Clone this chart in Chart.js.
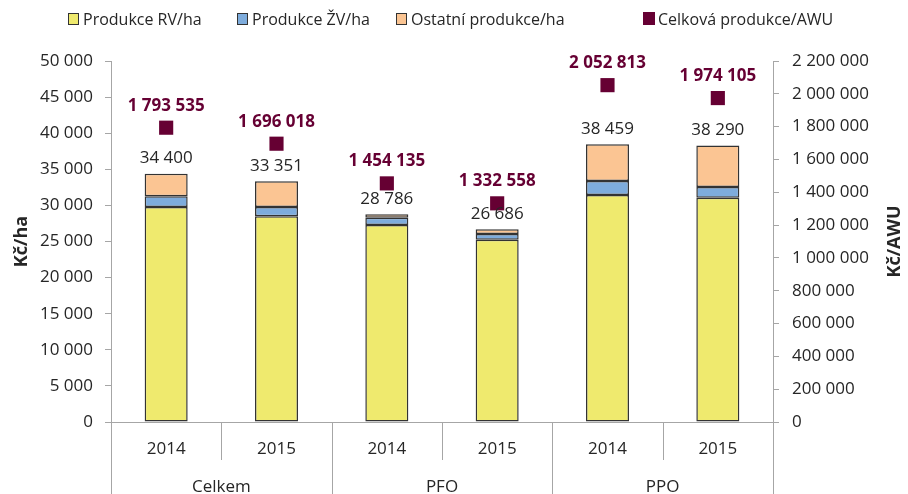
<!DOCTYPE html>
<html>
<head>
<meta charset="utf-8">
<script src="https://cdn.jsdelivr.net/npm/chart.js@4/dist/chart.umd.min.js"></script>
<style>
html,body{margin:0;padding:0;background:#fff;}
#wrap{width:908px;height:494px;position:relative;}
</style>
</head>
<body>
<div id="wrap"><canvas id="c" width="908" height="494"></canvas></div>
<script>
const categories = ['2014', '2015', '2014', '2015', '2014', '2015'];
const groups = ['Celkem', 'PFO', 'PPO'];
const rvValues = [29780, 28490, 27290, 25250, 31440, 31070];
const zvValues = [1480, 1290, 1010, 790, 1940, 1480];
const ostatniValues = [3140, 3571, 486, 646, 5079, 5740];
const totalValues = [34400, 33351, 28786, 26686, 38459, 38290];
const awuValues = [1793535, 1696018, 1454135, 1332558, 2052813, 1974105];
const leftTicks = [0, 5000, 10000, 15000, 20000, 25000, 30000, 35000, 40000, 45000, 50000];
const rightTicks = [0, 200000, 400000, 600000, 800000, 1000000, 1200000, 1400000, 1600000, 1800000, 2000000, 2200000];

const FONT = '"Open Sans", "DejaVu Sans", sans-serif';
const TXT = '#262626';
const AXIS = '#a6a6a6';
const MAROON = '#660033';
const BORDER = '#333333';
const fmt = v => String(Math.round(v)).replace(/\B(?=(\d{3})+(?!\d))/g, ' ');

const overlay = {
  id: 'overlay',
  afterDraw(chart) {
    const ctx = chart.ctx;
    const ca = chart.chartArea;
    const xs = chart.scales.x;
    ctx.save();
    // bottom multi-level axis
    const n = categories.length;
    const step = (ca.right - ca.left) / n;
    ctx.strokeStyle = AXIS;
    ctx.lineWidth = 1;
    for (let i = 0; i <= n; i++) {
      const x = Math.round(ca.left + i * step) + 0.5;
      const long = (i % 2 === 0);
      ctx.beginPath();
      ctx.moveTo(x, ca.bottom);
      ctx.lineTo(x, long ? chart.height : ca.bottom + 38);
      ctx.stroke();
    }
    ctx.fillStyle = TXT;
    ctx.font = '17px ' + FONT;
    ctx.textAlign = 'center';
    ctx.textBaseline = 'middle';
    categories.forEach((c, i) => {
      ctx.fillText(c, xs.getPixelForValue(i), ca.bottom + 27);
    });
    groups.forEach((g, i) => {
      ctx.fillText(g, ca.left + (2 * i + 1) * step, ca.bottom + 65);
    });
    // totals above bars
    const topMeta = chart.getDatasetMeta(2);
    topMeta.data.forEach((el, i) => {
      ctx.fillStyle = TXT;
      ctx.font = '17px ' + FONT;
      ctx.fillText(fmt(totalValues[i]), el.x, el.y - 15);
    });
    // AWU labels
    const pMeta = chart.getDatasetMeta(3);
    pMeta.data.forEach((el, i) => {
      ctx.fillStyle = MAROON;
      ctx.font = 'bold 17px ' + FONT;
      ctx.fillText(fmt(awuValues[i]), el.x, el.y - 22);
    });
    // right axis title (reads bottom to top)
    ctx.save();
    ctx.translate(895, (ca.top + ca.bottom) / 2);
    ctx.rotate(-Math.PI / 2);
    ctx.fillStyle = TXT;
    ctx.font = 'bold 18px ' + FONT;
    ctx.textAlign = 'center';
    ctx.textBaseline = 'middle';
    ctx.fillText('Kč/AWU', 0, 0);
    ctx.restore();
    // legend
    const legendX = [68, 237, 396, 643];
    const ly = 19;
    ctx.textAlign = 'left';
    ctx.font = '16px ' + FONT;
    chart.data.datasets.forEach((ds, i) => {
      const x = legendX[i];
      if (i < 3) {
        ctx.fillStyle = ds.backgroundColor;
        ctx.fillRect(x + 0.5, ly - 5.5, 10, 11);
        ctx.strokeStyle = BORDER;
        ctx.lineWidth = 1;
        ctx.strokeRect(x + 0.5, ly - 5.5, 10, 11);
      } else {
        ctx.fillStyle = MAROON;
        ctx.fillRect(x, ly - 7, 12, 13);
      }
      ctx.fillStyle = TXT;
      ctx.fillText(ds.label, x + 15, ly + 1);
    });
    ctx.restore();
  }
};

const barDs = (label, data, color) => ({
  type: 'bar', label, data, backgroundColor: color, borderColor: BORDER,
  borderWidth: 1.5, borderSkipped: false, stack: 's', yAxisID: 'y', order: 2
});

new Chart(document.getElementById('c'), {
  data: {
    labels: categories,
    datasets: [
      barDs('Produkce RV/ha', rvValues, '#efea6e'),
      barDs('Produkce ŽV/ha', zvValues, '#7eacdc'),
      barDs('Ostatní produkce/ha', ostatniValues, '#fbc593'),
      { type: 'line', label: 'Celková produkce/AWU', data: awuValues, showLine: false, pointStyle: 'rect', pointRadius: 10, pointHoverRadius: 10, backgroundColor: MAROON, borderColor: MAROON, borderWidth: 0, yAxisID: 'y1', order: 1 }
    ]
  },
  options: {
    responsive: false,
    animation: false,
    events: [],
    layout: { padding: { top: 61, left: 0, right: 0, bottom: 0 } },
    datasets: { bar: { barPercentage: 0.39, categoryPercentage: 1 } },
    plugins: { legend: { display: false }, tooltip: { enabled: false } },
    scales: {
      x: {
        stacked: true,
        ticks: { display: false },
        grid: { display: false },
        border: { display: true, color: AXIS, width: 1 },
        afterFit: s => { s.height = 72; }
      },
      y: {
        position: 'left',
        stacked: true,
        min: 0, max: 50000,
        afterBuildTicks: s => { s.ticks = leftTicks.map(v => ({ value: v })); },
        ticks: { callback: v => fmt(v), color: TXT, font: { family: FONT, size: 17 }, padding: 12 },
        grid: { drawOnChartArea: false, tickLength: 6, color: AXIS },
        border: { color: AXIS, width: 1 },
        title: { display: true, text: 'Kč/ha', color: TXT, font: { family: FONT, size: 18, weight: 'bold' }, padding: { top: 11, bottom: 0 } },
        afterFit: s => { s.width = 111; }
      },
      y1: {
        position: 'right',
        min: 0, max: 2200000,
        afterBuildTicks: s => { s.ticks = rightTicks.map(v => ({ value: v })); },
        ticks: { callback: v => fmt(v), color: TXT, font: { family: FONT, size: 17 }, padding: 13 },
        grid: { drawOnChartArea: false, tickLength: 6, color: AXIS },
        border: { color: AXIS, width: 1 },
        afterFit: s => { s.width = 135; }
      }
    }
  },
  plugins: [overlay]
});
</script>
</body>
</html>
